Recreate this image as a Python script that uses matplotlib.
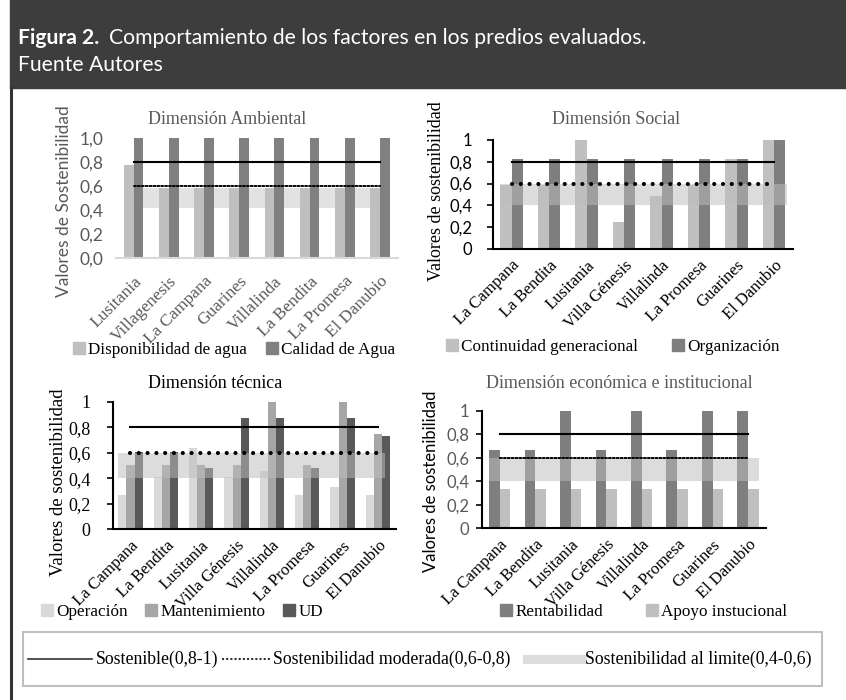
import matplotlib
matplotlib.use('Agg')
import matplotlib.pyplot as plt
import numpy as np
from matplotlib.patches import Rectangle, Patch
from matplotlib.lines import Line2D

# ---------------- data ----------------
amb_cats = ['Lusitania', 'Villagenesis', 'La Campana', 'Guarines', 'Villalinda',
            'La Bendita', 'La Promesa', 'El Danubio']
amb_disponibilidad = [0.78, 0.59, 0.59, 0.59, 0.59, 0.59, 0.59, 0.59]
amb_calidad = [1.0, 1.0, 1.0, 1.0, 1.0, 1.0, 1.0, 1.0]

cats = ['La Campana', 'La Bendita', 'Lusitania', 'Villa Génesis', 'Villalinda',
        'La Promesa', 'Guarines', 'El Danubio']
soc_continuidad = [0.59, 0.59, 1.0, 0.25, 0.49, 0.59, 0.83, 1.0]
soc_organizacion = [0.83, 0.83, 0.83, 0.83, 0.83, 0.83, 0.83, 1.0]

tec_operacion = [0.27, 0.41, 0.635, 0.41, 0.46, 0.27, 0.33, 0.27]
tec_mantenimiento = [0.5, 0.5, 0.5, 0.5, 1.0, 0.5, 1.0, 0.75]
tec_ud = [0.605, 0.605, 0.48, 0.875, 0.875, 0.48, 0.875, 0.73]

eco_rentabilidad = [0.67, 0.67, 1.0, 0.67, 1.0, 0.67, 1.0, 1.0]
eco_apoyo = [0.33, 0.33, 0.33, 0.33, 0.33, 0.33, 0.33, 0.33]

sostenible = 0.8
moderada = 0.6
limite = (0.4, 0.6)

yticks = [0, 0.2, 0.4, 0.6, 0.8, 1.0]
yt_amb = ['0,0', '0,2', '0,4', '0,6', '0,8', '1,0']
yt_oth = ['0', '0,2', '0,4', '0,6', '0,8', '1']

# ---------------- figure ----------------
W, H = 846, 700
fig = plt.figure(figsize=(W / 100, H / 100), dpi=100)
SERIF = 'Liberation Serif'
SANS = 'Lato'
GRAY = '#595959'


def fx(x):
    return x / W


def fy(y):
    return 1 - y / H


def make_ax(l, r, t, b):
    return fig.add_axes([fx(l), fy(b), (r - l) / W, (b - t) / H])


# header
fig.patches.append(Rectangle((fx(10), fy(88)), 1 - fx(10), 88 / H,
                             transform=fig.transFigure, color='#3d3d3d', zorder=0))
fig.lines.append(Line2D([fx(11), fx(11)], [0, fy(88)], transform=fig.transFigure,
                        color='#333333', lw=2.2))
HS = 15.2
t1 = fig.text(fx(18), fy(38), 'Figura 2.', color='white', fontsize=HS,
              fontweight='bold', family=SANS, va='center', ha='left')
fig.canvas.draw()
bb = t1.get_window_extent()
fig.text(bb.x1 / W + fx(10), fy(38), 'Comportamiento de los factores en los predios evaluados.',
         color='white', fontsize=HS, family=SANS, va='center', ha='left')
fig.text(fx(18), fy(65), 'Fuente Autores', color='white', fontsize=HS,
         family=SANS, va='center', ha='left')


def style_xt(ax, labels, color, size=11.5):
    ax.set_xticks(np.arange(len(labels)))
    ax.set_xticklabels(labels, rotation=45, ha='right', va='top',
                       rotation_mode='anchor', family=SERIF, fontsize=size, color=color)
    ax.tick_params(axis='x', length=0, pad=6)


def lines(ax, dotted_style, dotted_lw, x0=0, x1=7):
    ax.plot([x0, x1], [sostenible, sostenible], color='black', lw=1.5, zorder=5)
    ax.plot([x0, x1], [moderada, moderada], color='black', lw=dotted_lw,
            ls=dotted_style, dash_capstyle='round', zorder=5)


# ---------- Dimensión Ambiental ----------
ax = make_ax(116, 397.6, 138.3, 258.3)
x = np.arange(len(amb_cats))
ax.plot([x[0], x[-1]], [np.mean(limite)] * 2, color='#e2e2e2', lw=14.4,
        solid_capstyle='round', zorder=1)
ax.bar(x - 0.14, amb_disponibilidad, 0.28, color='#bfbfbf', zorder=2)
ax.bar(x + 0.14, amb_calidad, 0.28, color='#808080', zorder=2)
lines(ax, (0, (1, 1)), 1.4)
ax.set_xlim(-0.5, 7.5)
ax.set_ylim(0, 1)
for s in ['top', 'right', 'left']:
    ax.spines[s].set_visible(False)
ax.spines['bottom'].set_color('#d9d9d9')
ax.spines['bottom'].set_linewidth(1.5)
ax.set_yticks(yticks)
ax.set_yticklabels(yt_amb, family=SANS, fontsize=12.5, color=GRAY)
ax.tick_params(axis='y', length=0, pad=9)
style_xt(ax, amb_cats, GRAY, 12.5)
ax.tick_params(axis='x', pad=11)
ax.set_ylabel('Valores de Sostenibilidad', family=SANS, fontsize=12.5, color=GRAY)
ax.yaxis.set_label_coords(-0.158, 0.477)
fig.text(fx(227), fy(120), 'Dimensión Ambiental', family=SERIF, fontsize=13,
         color=GRAY, ha='center', va='center')
ax.legend(handles=[Patch(color='#bfbfbf', label='Disponibilidad de agua'),
                   Patch(color='#808080', label='Calidad de Agua')],
          loc='center', bbox_to_anchor=(fx(234), fy(350)), bbox_transform=fig.transFigure,
          ncol=2, frameon=False, prop={'family': SERIF, 'size': 12.3},
          handlelength=0.7, handleheight=0.7, handletextpad=0.2, columnspacing=1.1)

# ---------- Dimensión Social ----------
def framed(ax):
    for s in ['top', 'right']:
        ax.spines[s].set_visible(False)
    for s in ['left', 'bottom']:
        ax.spines[s].set_color('black')
        ax.spines[s].set_linewidth(1.5)
    ax.set_xlim(-0.5, 7.5)
    ax.set_ylim(0, 1)
    ax.set_yticks(yticks)


ax = make_ax(493, 792.7, 140, 249)
x = np.arange(len(cats))
framed(ax)
ax.bar(x - 0.15, soc_continuidad, 0.3, color='#c0c0c0', zorder=2)
ax.bar(x + 0.15, soc_organizacion, 0.3, color='#7f7f7f', zorder=2)
ax.fill_between([x[0] - 0.3, x[-1] + 0.35], limite[0], limite[1], color='#bdbdbd',
                alpha=0.53, lw=0, zorder=3)
lines(ax, (0, (0.01, 2.1)), 3.0)
ax.set_yticklabels(yt_oth, family=SANS, fontsize=12, color='black')
ax.tick_params(axis='y', length=4, width=1.2, pad=11)
style_xt(ax, cats, 'black', 12)
ax.set_ylabel('Valores de sostenibilidad', family=SERIF, fontsize=13, color='black')
ax.yaxis.set_label_coords(-0.16, 0.53)
fig.text(fx(616), fy(120), 'Dimensión Social', family=SERIF, fontsize=13,
         color=GRAY, ha='center', va='center')
ax.legend(handles=[Patch(color='#c0c0c0', label='Continuidad generacional'),
                   Patch(color='#7f7f7f', label='Organización')],
          loc='center', bbox_to_anchor=(fx(613), fy(347)), bbox_transform=fig.transFigure,
          ncol=2, frameon=False, prop={'family': SERIF, 'size': 12.3},
          handlelength=0.7, handleheight=0.7, handletextpad=0.2, columnspacing=2.0)

# ---------- Dimensión técnica ----------
ax = make_ax(112.8, 395.7, 401.7, 529.3)
framed(ax)
ax.bar(x - 0.23, tec_operacion, 0.23, color='#d9d9d9', zorder=2)
ax.bar(x, tec_mantenimiento, 0.23, color='#a6a6a6', zorder=2)
ax.bar(x + 0.23, tec_ud, 0.23, color='#595959', zorder=2)
ax.fill_between([x[0] - 0.35, x[-1] + 0.2], limite[0], limite[1], color='#bdbdbd',
                alpha=0.53, lw=0, zorder=3)
lines(ax, (0, (0.01, 2.1)), 3.0, 0, 7)
ax.set_yticklabels(yt_oth, family=SERIF, fontsize=13, color='black')
ax.tick_params(axis='y', length=4, width=1.2, pad=12)
style_xt(ax, cats, 'black', 12)
ax.set_ylabel('Valores de sostenibilidad', family=SERIF, fontsize=13.5, color='black')
ax.yaxis.set_label_coords(-0.162, 0.37)
fig.text(fx(215), fy(383), 'Dimensión técnica', family=SERIF, fontsize=13,
         color='black', ha='center', va='center')
ax.legend(handles=[Patch(color='#d9d9d9', label='Operación'),
                   Patch(color='#a6a6a6', label='Mantenimiento'),
                   Patch(color='#595959', label='UD')],
          loc='center', bbox_to_anchor=(fx(182), fy(612)), bbox_transform=fig.transFigure,
          ncol=3, frameon=False, prop={'family': SERIF, 'size': 12.3},
          handlelength=0.7, handleheight=0.7, handletextpad=0.2, columnspacing=1.0)

# ---------- Dimensión económica e institucional ----------
ax = make_ax(482, 765.8, 410.7, 528.3)
framed(ax)
ax.bar(x - 0.15, eco_rentabilidad, 0.3, color='#7f7f7f', zorder=2)
ax.bar(x + 0.15, eco_apoyo, 0.3, color='#bfbfbf', zorder=2)
ax.fill_between([x[0] - 0.3, x[-1] + 0.3], limite[0], limite[1], color='#bdbdbd',
                alpha=0.53, lw=0, zorder=3)
lines(ax, (0, (1, 1)), 1.4)
ax.set_yticklabels(yt_oth, family=SANS, fontsize=12, color=GRAY)
ax.tick_params(axis='y', length=4, width=1.2, pad=5)
style_xt(ax, cats, 'black', 12)
ax.set_ylabel('Valores de sostenibilidad', family=SANS, fontsize=12, color='black')
ax.yaxis.set_label_coords(-0.152, 0.396)
fig.text(fx(619), fy(383), 'Dimensión económica e institucional', family=SERIF,
         fontsize=13, color=GRAY, ha='center', va='center')
ax.legend(handles=[Patch(color='#7f7f7f', label='Rentabilidad'),
                   Patch(color='#bfbfbf', label='Apoyo instucional')],
          loc='center', bbox_to_anchor=(fx(644), fy(612)), bbox_transform=fig.transFigure,
          ncol=2, frameon=False, prop={'family': SERIF, 'size': 12.3},
          handlelength=0.7, handleheight=0.7, handletextpad=0.2, columnspacing=2.5)

# ---------- bottom legend box ----------
fig.patches.append(Rectangle((fx(23), fy(686)), (822 - 23) / W, 54 / H,
                             transform=fig.transFigure, facecolor='white',
                             edgecolor='#bfbfbf', lw=1.5, zorder=1))
ly = fy(659)
LS = 12.8
fig.lines.append(Line2D([fx(28), fx(92)], [ly, ly], transform=fig.transFigure,
                        color='#333333', lw=1.2, zorder=3))
fig.text(fx(96), ly, 'Sostenible(0,8-1)', family=SERIF, fontsize=LS,
         va='center', ha='left', zorder=3)
fig.lines.append(Line2D([fx(222), fx(270)], [ly, ly], transform=fig.transFigure,
                        color='#333333', lw=1.5, ls=(0, (1, 1)), zorder=3))
fig.text(fx(273), ly, 'Sostenibilidad moderada(0,6-0,8)', family=SERIF, fontsize=LS,
         va='center', ha='left', zorder=3)
fig.lines.append(Line2D([fx(527), fx(582)], [ly, ly], transform=fig.transFigure,
                        color='#dcdcdc', lw=6.5, zorder=3))
fig.text(fx(585), ly, 'Sostenibilidad al limite(0,4-0,6)', family=SERIF, fontsize=LS,
         va='center', ha='left', zorder=3)

fig.savefig('out.png', dpi=100)
